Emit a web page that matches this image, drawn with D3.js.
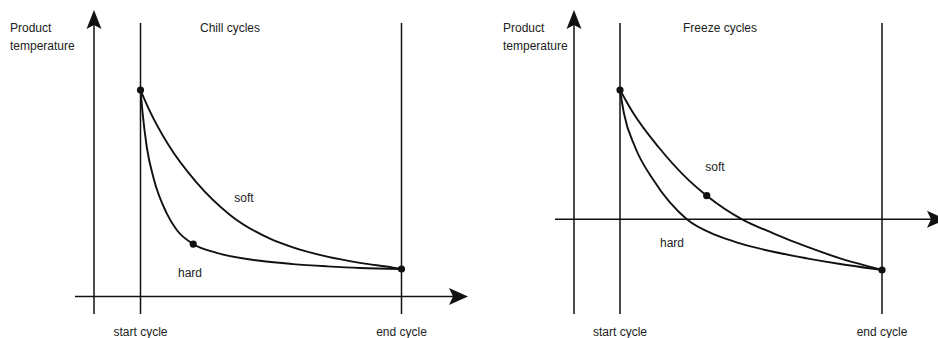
<!DOCTYPE html>
<html>
<head>
<meta charset="utf-8">
<script src="https://cdn.jsdelivr.net/npm/d3@7"></script>
<style>
  html, body { margin: 0; padding: 0; background: #fff; }
  svg { display: block; }
  text { font-family: "Liberation Sans", Arial, sans-serif; font-size: 12px; fill: #222; }
</style>
</head>
<body>
<svg id="chart" width="938" height="338"></svg>
<script>
// ---- data (cycle time in % of cycle, product temperature in relative units) ----
const panelTitles = ["Chill cycles", "Freeze cycles"];
const yAxisLabel = ["Product", "temperature"];
const cycleLabels = ["start cycle", "end cycle"];
const cycleTimes = [0, 100];
const curveNames = ["soft", "hard"];

// Chill: temperature 100 at start, above the time axis throughout
const chillSoft = [[0,100],[3.9,88.9],[10.5,73.8],[21.6,55.0],[34.3,39.5],[49.6,28.0],[58.4,23.8],[71.5,19.3],[84.1,16.3],[96.7,14.0],[100,13.3]];
const chillHard = [[0,100],[0.8,88.9],[2.4,72.4],[5.2,56.4],[10.0,40.4],[13.9,32.2],[20.2,25.4],[29.2,21.1],[45.8,17.3],[58.4,15.7],[71.5,14.6],[84.1,13.8],[100,13.3]];
const chillMarks = [[0,100],[20.2,25.4],[100,13.3]];

// Freeze: temperature crosses 0 (time axis) during the cycle
const freezeSoft = [[0,100],[5.1,82.0],[14.6,56.1],[26.1,30.5],[33.1,18.3],[46.6,0],[58.5,-10.8],[71.3,-21.2],[84.0,-30.2],[96.7,-37.4],[100,-39.2]];
const freezeHard = [[0,100],[1.5,82.0],[5.7,56.1],[12.7,30.5],[25.5,0],[36.9,-12.5],[45.8,-18.6],[58.5,-25.1],[71.3,-30.2],[84.0,-34.6],[96.7,-38.3],[100,-39.2]];
const freezeMarks = [[0,100],[33.1,18.3],[100,-39.2]];

// ---- layout ----
const panels = [
  { title: panelTitles[0], soft: chillSoft, hard: chillHard, marks: chillMarks,
    xRange: [140.5, 401.5], yDomain: [0, 100], yRange: [296.5, 90],
    yAxisX: 94, xAxisY: 296.5, xAxisFrom: 75, xAxisTo: 468,
    axisTop: 10, axisBottom: 314, cycleTop: 23,
    labelX: 10, titleX: 200,
    softLabel: [244, 201.5], hardLabel: [190, 277] },
  { title: panelTitles[1], soft: freezeSoft, hard: freezeHard, marks: freezeMarks,
    xRange: [620, 882], yDomain: [0, 100], yRange: [219.3, 90],
    yAxisX: 574, xAxisY: 219.3, xAxisFrom: 555, xAxisTo: 946,
    axisTop: 10, axisBottom: 314, cycleTop: 23,
    labelX: 503, titleX: 683,
    softLabel: [715, 170.5], hardLabel: [672, 246.5] }
];

const svg = d3.select("#chart");
const ink = "#111";

function upArrow(g, x, y) {
  g.append("path")
    .attr("d", `M${x},${y} L${x-7.5},${y+19} L${x},${y+15} L${x+7.5},${y+19} Z`)
    .attr("fill", ink);
}
function rightArrow(g, x, y) {
  g.append("path")
    .attr("d", `M${x},${y} L${x-19},${y-8.5} L${x-15},${y} L${x-19},${y+8.5} Z`)
    .attr("fill", ink);
}

panels.forEach(p => {
  const g = svg.append("g");
  const x = d3.scaleLinear().domain([0, 100]).range(p.xRange);
  const y = d3.scaleLinear().domain(p.yDomain).range(p.yRange);

  // temperature axis
  g.append("line").attr("x1", p.yAxisX).attr("x2", p.yAxisX)
    .attr("y1", p.axisBottom).attr("y2", p.axisTop + 12)
    .attr("stroke", ink).attr("stroke-width", 1.5);
  upArrow(g, p.yAxisX, p.axisTop);

  // time axis
  g.append("line").attr("x1", p.xAxisFrom).attr("x2", p.xAxisTo - 12)
    .attr("y1", p.xAxisY).attr("y2", p.xAxisY)
    .attr("stroke", ink).attr("stroke-width", 1.5);
  rightArrow(g, p.xAxisTo, p.xAxisY);

  // start / end cycle lines
  g.selectAll("line.cycle").data(cycleTimes).enter().append("line")
    .attr("class", "cycle")
    .attr("x1", d => x(d)).attr("x2", d => x(d))
    .attr("y1", p.cycleTop).attr("y2", p.axisBottom)
    .attr("stroke", ink).attr("stroke-width", 1.5);

  g.selectAll("text.cycle").data(cycleTimes).enter().append("text")
    .attr("class", "cycle")
    .attr("x", d => x(d)).attr("y", 336)
    .attr("text-anchor", "middle")
    .text((d, i) => cycleLabels[i]);

  // curves
  const line = d3.line().x(d => x(d[0])).y(d => y(d[1])).curve(d3.curveMonotoneX);
  [p.soft, p.hard].forEach(series => {
    g.append("path").datum(series)
      .attr("d", line)
      .attr("fill", "none")
      .attr("stroke", ink)
      .attr("stroke-width", 1.9);
  });

  // marker dots
  g.selectAll("circle").data(p.marks).enter().append("circle")
    .attr("cx", d => x(d[0])).attr("cy", d => y(d[1]))
    .attr("r", 3.6).attr("fill", ink);

  // labels
  g.append("text").attr("x", p.softLabel[0]).attr("y", p.softLabel[1])
    .attr("text-anchor", "middle").text(curveNames[0]);
  g.append("text").attr("x", p.hardLabel[0]).attr("y", p.hardLabel[1])
    .attr("text-anchor", "middle").text(curveNames[1]);

  g.append("text").attr("x", p.labelX).attr("y", 32).text(yAxisLabel[0]);
  g.append("text").attr("x", p.labelX).attr("y", 49.5).text(yAxisLabel[1]);
  g.append("text").attr("x", p.titleX).attr("y", 32).text(p.title);
});
</script>
</body>
</html>
